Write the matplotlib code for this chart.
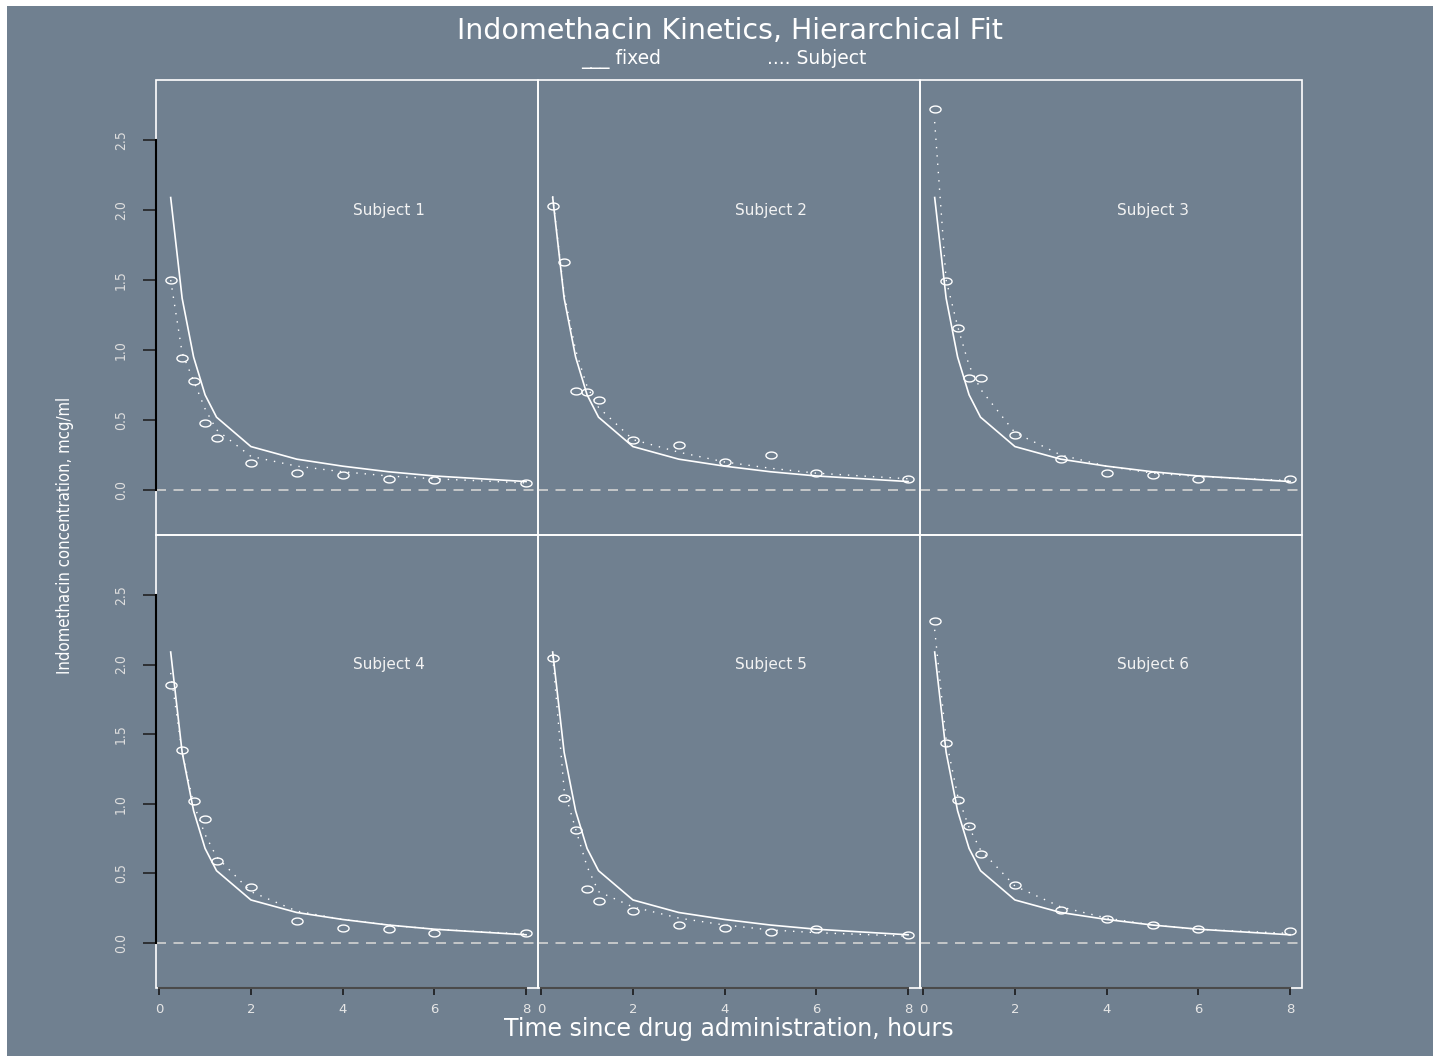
import matplotlib
matplotlib.use("Agg")
import matplotlib.pyplot as plt
import numpy as np
from matplotlib.path import Path
from matplotlib.patches import Rectangle
from matplotlib import font_manager as fm

# ---------------- data ----------------
times = [0.25, 0.5, 0.75, 1.0, 1.25, 2.0, 3.0, 4.0, 5.0, 6.0, 8.0]
subjects = ["Subject 1", "Subject 2", "Subject 3", "Subject 4", "Subject 5", "Subject 6"]

conc_s1 = [1.50, 0.94, 0.78, 0.48, 0.37, 0.19, 0.12, 0.11, 0.08, 0.07, 0.05]
conc_s2 = [2.03, 1.63, 0.71, 0.70, 0.64, 0.36, 0.32, 0.20, 0.25, 0.12, 0.08]
conc_s3 = [2.72, 1.49, 1.16, 0.80, 0.80, 0.39, 0.22, 0.12, 0.11, 0.08, 0.08]
conc_s4 = [1.85, 1.39, 1.02, 0.89, 0.59, 0.40, 0.16, 0.11, 0.10, 0.07, 0.07]
conc_s5 = [2.05, 1.04, 0.81, 0.39, 0.30, 0.23, 0.13, 0.11, 0.08, 0.10, 0.06]
conc_s6 = [2.31, 1.44, 1.03, 0.84, 0.64, 0.42, 0.24, 0.17, 0.13, 0.10, 0.09]

fixed_fit = [2.09, 1.37, 0.95, 0.68, 0.52, 0.31, 0.22, 0.17, 0.13, 0.10, 0.06]

subj_fit_1 = [1.50, 0.98, 0.78, 0.58, 0.43, 0.24, 0.17, 0.13, 0.10, 0.08, 0.05]
subj_fit_2 = [2.10, 1.40, 1.00, 0.74, 0.59, 0.36, 0.27, 0.20, 0.155, 0.12, 0.08]
subj_fit_3 = [2.63, 1.50, 1.17, 0.89, 0.72, 0.41, 0.25, 0.17, 0.12, 0.096, 0.067]
subj_fit_4 = [1.94, 1.37, 1.00, 0.78, 0.62, 0.37, 0.23, 0.17, 0.13, 0.10, 0.065]
subj_fit_5 = [2.06, 1.10, 0.82, 0.55, 0.37, 0.26, 0.18, 0.13, 0.095, 0.075, 0.05]
subj_fit_6 = [2.25, 1.46, 1.06, 0.83, 0.67, 0.41, 0.26, 0.18, 0.13, 0.10, 0.07]

y_ticks = [0.0, 0.5, 1.0, 1.5, 2.0, 2.5]
y_tick_labels = ["0.0", "0.5", "1.0", "1.5", "2.0", "2.5"]
x_ticks = [0, 2, 4, 6, 8]
x_tick_labels = ["0", "2", "4", "6", "8"]

title = "Indomethacin Kinetics, Hierarchical Fit"
legend_fixed = "___ fixed"
legend_subject = ".... Subject"
x_label = "Time since drug administration, hours"
y_label = "Indomethacin concentration, mcg/ml"

conc = [conc_s1, conc_s2, conc_s3, conc_s4, conc_s5, conc_s6]
subj_fits = [subj_fit_1, subj_fit_2, subj_fit_3, subj_fit_4, subj_fit_5, subj_fit_6]

# ---------------- fonts ----------------
def find_narrow():
    files = [f.fname for f in fm.fontManager.ttflist]
    prefs = ["liberationsansnarrow-regular", "notosans-condensed.", "notosans-condensedregular",
             "notosans-semicondensed.", "notosans-semicondensedregular",
             "dejavusanscondensed.", "robotocondensed-regular", "opensans-condensed",
             "opensans_condensed-regular"]
    for p in prefs:
        for fn in files:
            if p in fn.lower().replace(" ", ""):
                return fn
    bad = ("mono", "serif", "bold", "italic", "oblique", "light", "thin", "black",
           "medium", "semibold", "extrabold", "cjk", "display", "ui")
    for fn in files:
        low = fn.lower()
        if ("narrow" in low or "condensed" in low) and not any(b in low.split("/")[-1] for b in bad):
            return fn
    return None

narrow_file = find_narrow()
if narrow_file:
    fp_ylab = fm.FontProperties(fname=narrow_file, size=12)
    fp_ytick = fm.FontProperties(fname=narrow_file, size=10)
else:
    fp_ylab = fm.FontProperties(family="Liberation Sans", size=9.5)
    fp_ytick = fm.FontProperties(family="Liberation Sans", size=9)

# ---------------- layout ----------------
W, H = 1433, 1056
BG = "#708090"
col_edges = [156, 538, 920, 1302]
row_edges = [80, 535, 988]

fig = plt.figure(figsize=(W / 100, H / 100), dpi=100, facecolor="white")
fig.patches.append(Rectangle((7 / W, 0), 1 - 7 / W, 1 - 6 / H, transform=fig.transFigure,
                             facecolor=BG, edgecolor="none", zorder=-5))

theta = np.linspace(0, 2 * np.pi, 41)
ellipse = Path(np.column_stack([np.cos(theta), 0.62 * np.sin(theta)]), closed=True)

for i in range(6):
    r, c = divmod(i, 3)
    x0, x1 = col_edges[c], col_edges[c + 1]
    y0, y1 = row_edges[r], row_edges[r + 1]
    ax = fig.add_axes([x0 / W, 1 - y1 / H, (x1 - x0) / W, (y1 - y0) / H])
    ax.set_facecolor("none")
    ax.set_xlim(-0.07, 8.26)
    ax.set_ylim(-0.322, 2.93)
    for sp in ax.spines.values():
        sp.set_visible(False)
    ax.add_patch(Rectangle((0, 0), 1, 1, transform=ax.transAxes, fill=False,
                           edgecolor="white", linewidth=1.2, clip_on=False, zorder=2.4))

    ax.axhline(0, color="#d3d3d3", linewidth=1.2, dashes=(6, 4.5), zorder=1)
    ax.plot(times, fixed_fit, color="white", linewidth=1.2, zorder=3)
    ax.plot(times, subj_fits[i], color="white", linewidth=1.0,
            linestyle=(0, (1, 5)), zorder=3)
    ax.plot(times, conc[i], linestyle="none", marker=ellipse, markersize=8,
            markerfacecolor="none", markeredgecolor="white", markeredgewidth=1.0, zorder=4)
    ax.text(5.0, 2.0, subjects[i], ha="center", va="center", fontsize=11,
            color="#f2f2f2")

    if c == 0:
        sp = ax.spines["left"]
        sp.set_visible(True)
        sp.set_color("black")
        sp.set_linewidth(1.5)
        sp.set_bounds(0, 2.5)
        sp.set_zorder(2.6)
        ax.set_yticks(y_ticks)
        ax.set_yticklabels(y_tick_labels)
        ax.tick_params(axis="y", direction="out", length=9.4, width=1.1,
                       color="#1a1a1a", labelcolor="#dedede", pad=11)
        for lab in ax.get_yticklabels():
            lab.set_rotation(90)
            lab.set_va("center")
            lab.set_fontproperties(fp_ytick)
    else:
        ax.set_yticks([])

    if r == 1:
        sp = ax.spines["bottom"]
        sp.set_visible(True)
        sp.set_color("#4a4a4a")
        sp.set_linewidth(1.5)
        sp.set_bounds(0, 8)
        sp.set_zorder(2.6)
        ax.set_xticks(x_ticks)
        ax.set_xticklabels(x_tick_labels)
        ax.tick_params(axis="x", direction="out", length=5, width=1.1,
                       color="#111111", labelcolor="#e6e6e6", pad=5.5, labelsize=9.5)
    else:
        ax.set_xticks([])

fig.text(730 / W, 1 - 31 / H, title, ha="center", va="center", fontsize=20.5, color="white")
fig.text(621 / W, 1 - 59 / H, legend_fixed, ha="center", va="center", fontsize=13.5, color="white")
fig.text(817 / W, 1 - 59 / H, legend_subject, ha="center", va="center", fontsize=13.5, color="white")
fig.text(729 / W, 1 - 1029 / H, x_label, ha="center", va="center", fontsize=17, color="white")
fig.text(65 / W, 1 - 535 / H, y_label, ha="center", va="center", rotation=90,
         fontproperties=fp_ylab, color="white")

fig.savefig("out.png", dpi=100, facecolor="white")
